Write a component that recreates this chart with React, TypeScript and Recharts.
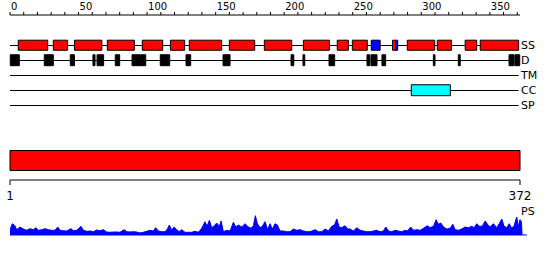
import React from 'react';
import { ComposedChart, AreaChart, Area, Scatter, XAxis, YAxis, ReferenceArea } from 'recharts';

const FONT = "'DejaVu Sans', sans-serif";

const proteinLength = 372;
const trackNames = ['SS', 'D', 'TM', 'CC', 'SP'];
const topTicks = [0, 10, 20, 30, 40, 50, 60, 70, 80, 90, 100, 110, 120, 130, 140, 150, 160, 170, 180, 190, 200, 210, 220, 230, 240, 250, 260, 270, 280, 290, 300, 310, 320, 330, 340, 350, 360, 370];
const bottomTicks = [1, 372];

// secondary structure (SS row)
const helixSegments: [number, number][] = [
  [6, 27.5], [31.6, 42], [47, 67], [71, 90.7], [96.5, 111.4], [117, 127.4],
  [130.8, 154.4], [160, 178.5], [185.5, 205.5], [214, 233], [238.7, 246.8],
  [249.7, 260.6], [279, 281.3], [289.8, 309.8], [311.7, 322], [332, 340.4], [343, 371],
];
const strandSegments: [number, number][] = [[263.5, 270], [281.3, 282.8]];

// disorder (D row)
const disorderSegments: [number, number][] = [
  [0.2, 6.8], [25, 31.6], [44, 47], [60.5, 62], [63.5, 68.3], [76.8, 80], [89, 99],
  [109.6, 116.5], [128.4, 131.8], [155.4, 160.5], [205, 207], [213.7, 215],
  [232.7, 236.8], [260.4, 262.4], [263.3, 267.7], [271.3, 274], [308.8, 310],
  [327, 328.4], [364, 367.6], [368.3, 371.8],
];

// coiled coil (CC row)
const coiledCoilSegments: [number, number][] = [[292.7, 321.2]];

// domain bar
const domainSegments: [number, number][] = [[1, 372]];

// PS profile
const psPositions = [
  0, 1.7, 3.6, 4.9, 7.3, 9.7, 12.2, 14.6, 17.0, 19.0, 20.7, 23.1, 25.5, 28.0, 30.4, 32.8, 34.8, 36.5, 38.9, 41.3,
  44.5, 46.2, 48.6, 51.8, 53.5, 55.9, 58.4, 60.8, 63.2, 65.6, 68.1, 70.5, 72.9, 75.4, 77.8, 80.2, 83.2, 85.1, 87.5,
  90.0, 92.4, 94.8, 97.2, 99.7, 102.1, 104.5, 106.2, 108.2, 110.6, 113.1, 114.8, 116.2, 117.9, 119.6, 121.6, 123.5,
  125.2, 127.6, 130.1, 132.5, 134.9, 137.4, 139.8, 142.2, 143.7, 145.4, 147.1, 149.0, 150.7, 152.7, 153.9, 155.6,
  158.0, 160.5, 162.9, 164.6, 166.5, 169.0, 171.4, 173.8, 175.8, 177.5, 178.9, 180.4, 182.3, 184.0, 186.0, 187.9,
  189.6, 191.3, 193.3, 195.0, 196.9, 199.4, 201.8, 204.2, 206.7, 209.1, 211.5, 214.0, 216.4, 218.8, 222.5, 224.9,
  227.3, 229.8, 232.2, 234.6, 236.6, 238.3, 240.0, 241.9, 244.3, 246.3, 248.0, 250.4,
  252.9, 255.3, 257.7, 260.2, 262.6, 265.0, 267.4, 269.9, 272.3, 274.0, 276.0, 278.4, 280.8, 283.2, 285.7, 288.1,
  289.8, 292.2, 294.2, 296.6, 299.1, 301.5, 304.4, 306.3, 308.8, 310.7, 312.4, 314.1, 316.1, 318.5, 320.9, 322.9,
  324.6, 327.0, 329.4, 331.9, 334.3, 336.7, 338.4, 340.4, 342.3, 344.3, 346.5, 348.2, 350.1, 352.5, 355.0, 356.7,
  358.6, 360.3, 362.3, 364.0, 365.9, 367.6, 369.5, 370.7, 371.9, 372.9, 373.4,
];
const psValues = [
  5.3, 11.3, 9.3, 5.3, 8, 6, 4.7, 6.3, 5.3, 7.3, 4.7, 5.3, 6.3, 5.3, 4.7, 4.7, 8, 4.7, 4.3, 4,
  6.3, 4.3, 4.7, 8.7, 4.7, 3.7, 4, 3.3, 5, 4.3, 5.3, 3, 2.7, 3, 3, 2.7, 5.3, 3.3, 3,
  3.3, 3, 2, 2.7, 3.7, 4.7, 4, 7.3, 4, 3.3, 3.3, 6, 10, 4.7, 8, 5.3, 3.3,
  5.3, 2.7, 2.7, 2.7, 3.7, 2.7, 6.7, 13.3, 8.7, 14.7, 7.3, 9.3, 12, 8.7, 14, 3.3,
  4.7, 4, 12.7, 8, 10, 8, 11.3, 8, 6.7, 9.3, 19.3, 11.3, 7.3, 8.7, 13.3, 5.3,
  11.3, 6, 11.3, 10, 4, 4, 3.3, 3.3, 6, 4.7, 5.3, 4, 3.3, 3.3, 5.3, 3.3,
  3.3, 6, 4, 8.7, 10, 16, 8, 7.3, 9.3, 6, 6, 4,
  7.3, 4.7, 4, 3.3, 3.3, 4, 4.7, 3.3, 4, 8, 4, 3.3, 4.7, 4, 3.3, 4.7,
  4, 8, 4.7, 5.3, 4.7, 6.7, 9.3, 7.3, 8.7, 15.3, 10.7, 12, 8, 6, 6.7, 10.7,
  5.3, 4.7, 6, 8, 7.3, 8.7, 7.3, 11.3, 8.7, 8.7, 14, 10.7, 8, 11.3, 7.3, 11.3,
  16, 8.7, 7.3, 11.3, 6.7, 9.3, 18, 8.7, 15.3, 13.3, 0,
];
const psLabel = 'PS';

const psData = psPositions.map((p, i) => ({ pos: p, ps: psValues[i] }));
const trackAnchors = trackNames.map((_, i) => ({ pos: 0, row: i }));
const domainAnchors = domainSegments.map(([a]) => ({ pos: a, y: 0 }));

const TopTick = (props: any) => {
  const { x, y, payload } = props;
  if (payload.value % 50 !== 0) return <g />;
  return (
    <text x={x + 1} y={y} fontSize={10} fontFamily={FONT} fill="#000" textAnchor="start">
      {payload.value}
    </text>
  );
};

const TrackTick = (props: any) => {
  const { x, y, payload } = props;
  return (
    <text x={x} y={y} dy="0.36em" fontSize={11} fontFamily={FONT} fill="#000" textAnchor="start">
      {trackNames[payload.value]}
    </text>
  );
};

const BottomTick = (props: any) => {
  const { x, y, payload } = props;
  return (
    <text x={x} y={y + 13} fontSize={12} fontFamily={FONT} fill="#000" textAnchor="middle">
      {payload.value}
    </text>
  );
};

const PsTick = (props: any) => {
  const { x, y } = props;
  return (
    <text x={x - 6} y={y} fontSize={11} fontFamily={FONT} fill="#000" textAnchor="start">
      {psLabel}
    </text>
  );
};

const NoShape = () => <g />;

const BOX_HALF = 0.35;

export default function App() {
  return (
    <div style={{ position: 'absolute', left: 0, top: 0, width: 550, height: 260, background: '#fff' }}>
      <div style={{ position: 'absolute', left: 0, top: 0 }}>
        <ComposedChart width={550} height={120} data={trackAnchors} margin={{ top: 0, right: 0, bottom: 0, left: 10 }}>
          <XAxis
            dataKey="pos"
            orientation="top"
            type="number"
            domain={[0, proteinLength]}
            ticks={topTicks}
            interval={0}
            height={15}
            tickSize={3}
            tickMargin={2}
            stroke="#000"
            tick={TopTick}
            allowDataOverflow
          />
          <YAxis
            dataKey="row"
            orientation="right"
            type="number"
            domain={[-2, 5]}
            reversed
            ticks={[0, 1, 2, 3, 4]}
            interval={0}
            width={30}
            tickSize={0}
            tickMargin={1}
            axisLine={false}
            tickLine={false}
            tick={TrackTick}
            allowDataOverflow
          />
          <Scatter dataKey="row" shape={NoShape} isAnimationActive={false} />
          {trackNames.map((name, i) => (
            <ReferenceArea key={'line-' + name} x1={0} x2={371} y1={i} y2={i + 1 / 15} fill="#000" fillOpacity={1} stroke="none" />
          ))}
          {helixSegments.map(([a, b], i) => (
            <ReferenceArea key={'h' + i} x1={a} x2={b} y1={0 - BOX_HALF + 0.03} y2={0 + BOX_HALF} fill="#ff0000" fillOpacity={1} stroke="#000" strokeWidth={1} />
          ))}
          {strandSegments.map(([a, b], i) => (
            <ReferenceArea key={'s' + i} x1={a} x2={b} y1={0 - BOX_HALF + 0.03} y2={0 + BOX_HALF} fill="#0000ff" fillOpacity={1} stroke="#000" strokeWidth={1} />
          ))}
          {disorderSegments.map(([a, b], i) => (
            <ReferenceArea key={'d' + i} x1={a} x2={b} y1={1 - BOX_HALF} y2={1 + BOX_HALF + 0.03} fill="#000" fillOpacity={1} stroke="#000" strokeWidth={1} />
          ))}
          {coiledCoilSegments.map(([a, b], i) => (
            <ReferenceArea key={'c' + i} x1={a} x2={b} y1={3 - BOX_HALF} y2={3 + BOX_HALF + 0.03} fill="#00ffff" fillOpacity={1} stroke="#000" strokeWidth={1} />
          ))}
        </ComposedChart>
      </div>
      <div style={{ position: 'absolute', left: 0, top: 140 }}>
        <ComposedChart width={550} height={70} data={domainAnchors} margin={{ top: 0, right: 30, bottom: 0, left: 10 }}>
          <XAxis
            dataKey="pos"
            type="number"
            domain={[1, proteinLength]}
            ticks={bottomTicks}
            interval={0}
            height={30}
            tickSize={5}
            tickMargin={2}
            stroke="#000"
            tick={BottomTick}
            allowDataOverflow
          />
          <YAxis dataKey="y" hide type="number" domain={[0, 40]} />
          <Scatter dataKey="y" shape={NoShape} isAnimationActive={false} />
          {domainSegments.map(([a, b], i) => (
            <ReferenceArea key={'dom' + i} x1={a} x2={b} y1={9.5} y2={29.5} fill="#ff0000" fillOpacity={1} stroke="#000" strokeWidth={1} />
          ))}
        </ComposedChart>
      </div>
      <div style={{ position: 'absolute', left: 0, top: 200 }}>
        <AreaChart width={550} height={40} data={psData} margin={{ top: 5, right: 0, bottom: 0, left: 10 }}>
          <XAxis
            dataKey="pos"
            type="number"
            domain={[0, 377]}
            height={5}
            tick={false}
            tickLine={false}
            stroke="#0000ff"
            allowDataOverflow
          />
          <YAxis
            orientation="right"
            type="number"
            domain={[0, 30]}
            ticks={[20]}
            width={23}
            tickSize={0}
            tickMargin={0}
            axisLine={false}
            tickLine={false}
            tick={PsTick}
            allowDataOverflow
          />
          <Area
            type="linear"
            dataKey="ps"
            stroke="#0000ff"
            strokeWidth={1}
            fill="#0000ff"
            fillOpacity={1}
            dot={false}
            activeDot={false}
            isAnimationActive={false}
          />
        </AreaChart>
      </div>
    </div>
  );
}
